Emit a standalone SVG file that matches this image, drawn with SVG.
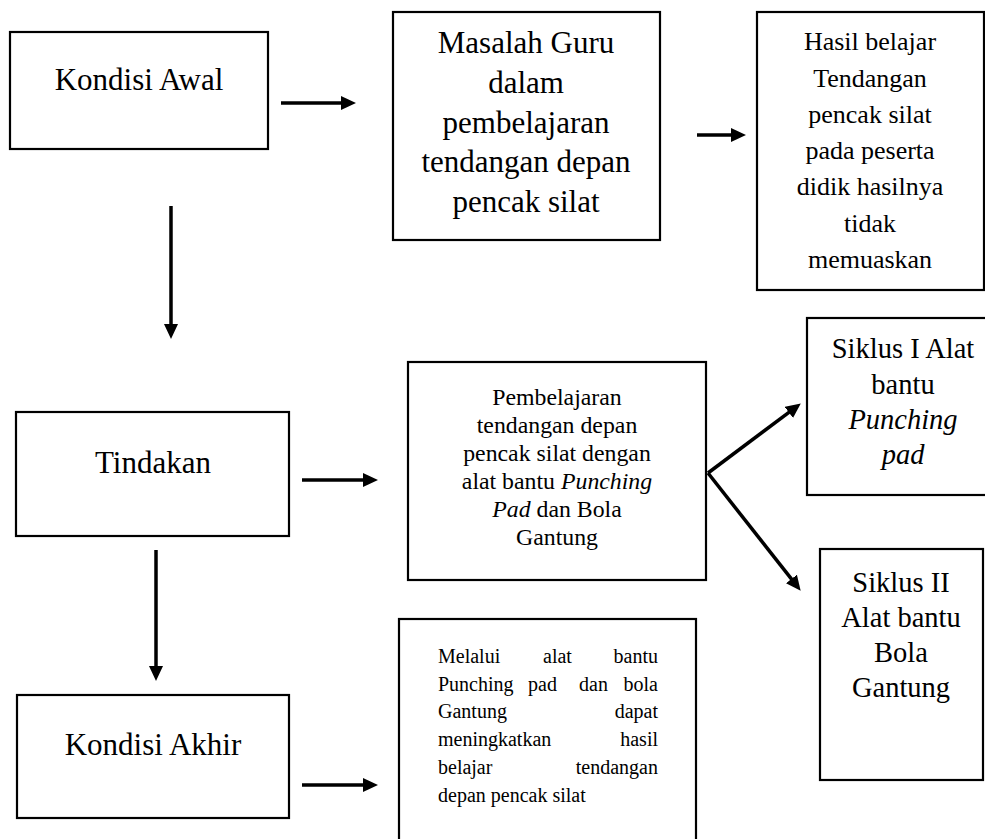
<svg xmlns="http://www.w3.org/2000/svg" width="985" height="839" viewBox="0 0 985 839" font-family="'Liberation Serif', 'Times New Roman', serif">
<style>
.box{fill:#fff;stroke:#000;stroke-width:2.2}
.t{fill:#000}
.c{text-anchor:middle}
.big{font-size:31px}
.mid{font-size:26px}
.sk{font-size:28.5px}
.sm{font-size:23.8px}
.xs{font-size:20px}
.arr{stroke:#000;stroke-width:3.5;fill:none;marker-end:url(#ah)}
</style>
<defs>
<marker id="ah" markerUnits="userSpaceOnUse" markerWidth="16" markerHeight="14" refX="6" refY="7" orient="auto">
<path d="M0,0 L15,7 L0,14 z" fill="#000"/>
</marker>
</defs>
<g id="kondisi-awal">
<rect class="box" x="10" y="32" width="258" height="117"/>
<text class="t c big" x="139" y="90">Kondisi Awal</text>
</g>
<g id="masalah">
<rect class="box" x="393" y="12" width="267" height="228"/>
<text class="t c big" x="526" y="53">Masalah Guru</text>
<text class="t c big" x="526" y="93">dalam</text>
<text class="t c big" x="526" y="133">pembelajaran</text>
<text class="t c big" x="526" y="172">tendangan depan</text>
<text class="t c big" x="526" y="212">pencak silat</text>
</g>
<g id="hasil">
<rect class="box" x="757" y="12" width="227" height="278"/>
<text class="t c mid" x="870" y="50">Hasil belajar</text>
<text class="t c mid" x="870" y="87">Tendangan</text>
<text class="t c mid" x="870" y="123">pencak silat</text>
<text class="t c mid" x="870" y="159">pada peserta</text>
<text class="t c mid" x="870" y="195">didik hasilnya</text>
<text class="t c mid" x="870" y="232">tidak</text>
<text class="t c mid" x="870" y="268">memuaskan</text>
</g>
<g id="tindakan">
<rect class="box" x="16" y="412" width="273" height="124"/>
<text class="t c big" x="153" y="473">Tindakan</text>
</g>
<g id="pembelajaran">
<rect class="box" x="408" y="362" width="298" height="218"/>
<text class="t c sm" x="557" y="405">Pembelajaran</text>
<text class="t c sm" x="557" y="433">tendangan depan</text>
<text class="t c sm" x="557" y="461">pencak silat dengan</text>
<text class="t c sm" x="557" y="489">alat bantu <tspan font-style="italic">Punching</tspan></text>
<text class="t c sm" x="557" y="517"><tspan font-style="italic">Pad</tspan> dan Bola</text>
<text class="t c sm" x="557" y="545">Gantung</text>
</g>
<g id="siklus-1">
<rect class="box" x="807" y="318" width="200" height="177"/>
<text class="t c sk" x="903" y="358">Siklus I Alat</text>
<text class="t c sk" x="903" y="394">bantu</text>
<text class="t c sk" x="903" y="429" font-style="italic">Punching</text>
<text class="t c sk" x="903" y="464" font-style="italic">pad</text>
</g>
<g id="siklus-2">
<rect class="box" x="820" y="549" width="163" height="231"/>
<text class="t c sk" x="901" y="592">Siklus II</text>
<text class="t c sk" x="901" y="627">Alat bantu</text>
<text class="t c sk" x="901" y="662">Bola</text>
<text class="t c sk" x="901" y="697">Gantung</text>
</g>
<g id="kondisi-akhir">
<rect class="box" x="17" y="695" width="272" height="123"/>
<text class="t c big" x="153" y="755">Kondisi Akhir</text>
</g>
<g id="melalui">
<rect class="box" x="399" y="619" width="297" height="230"/>
<text class="t xs" y="663"><tspan x="438">Melalui</tspan><tspan x="543">alat</tspan><tspan x="658" text-anchor="end">bantu</tspan></text>
<text class="t xs" y="691"><tspan x="438">Punching</tspan><tspan x="528">pad</tspan><tspan x="579">dan</tspan><tspan x="658" text-anchor="end">bola</tspan></text>
<text class="t xs" y="718"><tspan x="438">Gantung</tspan><tspan x="658" text-anchor="end">dapat</tspan></text>
<text class="t xs" y="746"><tspan x="438">meningkatkan</tspan><tspan x="658" text-anchor="end">hasil</tspan></text>
<text class="t xs" y="774"><tspan x="438">belajar</tspan><tspan x="658" text-anchor="end">tendangan</tspan></text>
<text class="t xs" x="438" y="802">depan pencak silat</text>
</g>
<g id="connectors">
<line class="arr" x1="281" y1="103" x2="347" y2="103"/>
<line class="arr" x1="697" y1="135" x2="737" y2="135"/>
<line class="arr" x1="171" y1="206" x2="171" y2="330"/>
<line class="arr" x1="302" y1="480" x2="369" y2="480"/>
<line class="arr" x1="708" y1="473" x2="793.6" y2="408.8"/>
<line class="arr" x1="708" y1="473" x2="795.1" y2="583.7"/>
<line class="arr" x1="156" y1="550" x2="156" y2="672"/>
<line class="arr" x1="302" y1="785" x2="369" y2="785"/>
</g>
</svg>
